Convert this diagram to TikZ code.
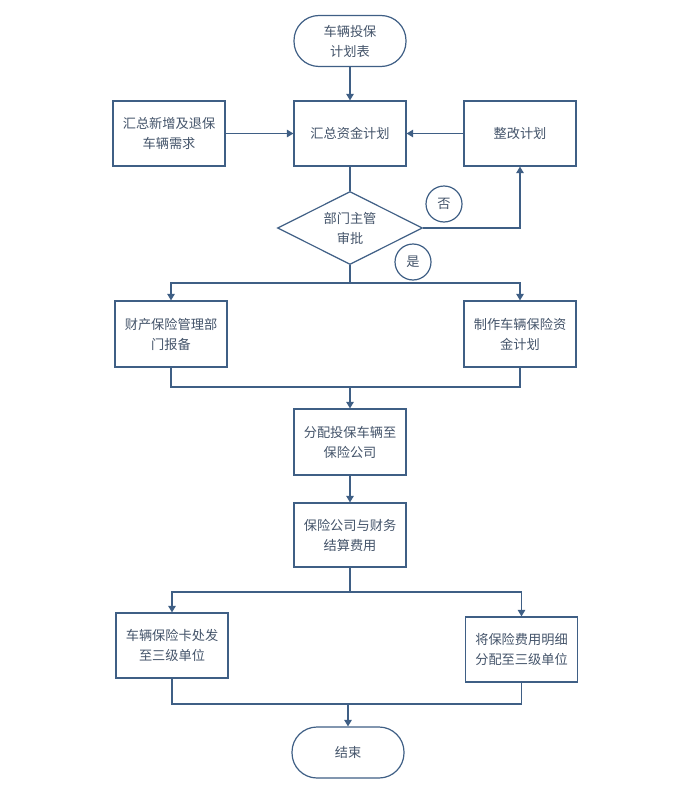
\documentclass[tikz,border=0pt]{standalone}
\usepackage{fontspec}
\setmainfont{Noto Sans CJK SC}
\usetikzlibrary{arrows.meta,shapes.geometric}
\definecolor{linec}{HTML}{3F5F85}
\definecolor{textc}{HTML}{44546A}
\begin{document}
\begin{tikzpicture}[x=1pt,y=-1pt,
  every node/.style={font=\fontsize{13.2}{20}\selectfont, text=textc, align=center},
  box/.style={draw=linec, line width=1.2pt, fill=white, rectangle, minimum width=112pt, minimum height=65pt, inner sep=2pt},
  term/.style={draw=linec, line width=1.2pt, fill=white, rectangle, rounded corners=25pt, minimum width=112pt, minimum height=51pt},
  decide/.style={draw=linec, line width=1.2pt, fill=white, diamond, aspect=2, minimum width=145pt, minimum height=73pt, inner sep=0pt},
  tag/.style={draw=linec, line width=1.2pt, fill=white, circle, minimum size=36pt, inner sep=0pt},
  conn/.style={draw=linec, line width=1.2pt},
  arr/.style={conn, -{Triangle[length=6.5pt,width=7.5pt]}}]
\useasboundingbox (0,0) rectangle (673,808);

% nodes
\node[term] (start) at (350,41) {车辆投保\\计划表};
\node[box] (collect) at (169,133.5) {汇总新增及退保\\车辆需求};
\node[box] (plan) at (350,133.5) {汇总资金计划};
\node[box] (revise) at (520,133.5) {整改计划};
\node[decide] (approve) at (350,228) {部门主管\\审批};
\node[tag] (no) at (444,204) {否};
\node[tag] (yes) at (413,262) {是};
\node[box, minimum height=66pt] (report) at (171,334) {财产保险管理部\\门报备};
\node[box, minimum height=66pt] (make) at (520,334) {制作车辆保险资\\金计划};
\node[box, minimum height=66pt] (assign) at (350,442) {分配投保车辆至\\保险公司};
\node[box, minimum height=64pt] (settle) at (350,535) {保险公司与财务\\结算费用};
\node[box] (card) at (172,645.5) {车辆保险卡处发\\至三级单位};
\node[box] (detail) at (521.5,649.5) {将保险费用明细\\分配至三级单位};
\node[term] (finish) at (348,752.5) {结束};

% branch points
\coordinate (split1) at (350,283);
\coordinate (join1) at (350,387);
\coordinate (split2) at (350,592);
\coordinate (join2) at (348,704);

% connectors
\draw[arr] (start) -- (plan);
\draw[arr] (collect) -- (plan);
\draw[arr] (revise) -- (plan);
\draw[conn] (plan) -- (approve.north);
\draw[arr] (approve.east) -| (revise.south);
\draw[conn] (approve.south) -- (split1);
\draw[arr] (split1) -| (report.north);
\draw[arr] (split1) -| (make.north);
\draw[conn] (report.south) |- (join1) -| (make.south);
\draw[arr] (join1) -- (assign.north);
\draw[arr] (assign) -- (settle);
\draw[conn] (settle.south) -- (split2);
\draw[arr] (split2) -| (card.north);
\draw[arr] (split2) -| (detail.north);
\draw[conn] (card.south) |- (join2) -| (detail.south);
\draw[arr] (join2) -- (finish.north);
\end{tikzpicture}
\end{document}
